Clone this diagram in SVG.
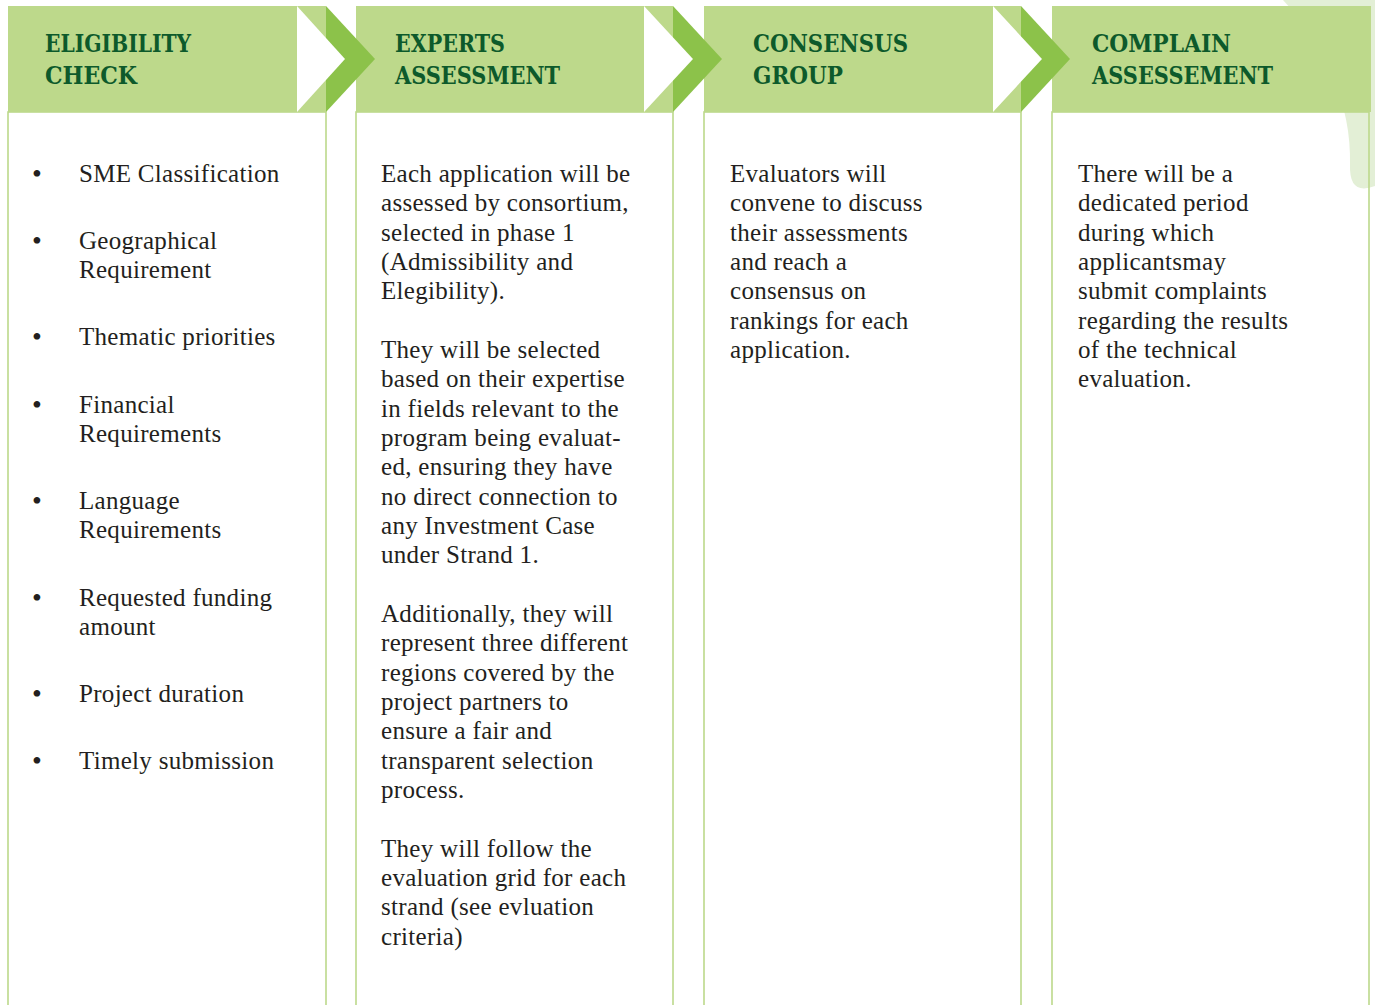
<svg xmlns="http://www.w3.org/2000/svg" width="1375" height="1005" viewBox="0 0 1375 1005">
<style>
.hdr{fill:#bdd98b}
.col{fill:none;stroke:#bcd98b;stroke-width:1.6}
.ttl{font-family:"DejaVu Serif",serif;font-weight:bold;font-size:24px;fill:#0d5a2b}
.txt{font-family:"Liberation Serif",serif;font-size:25px;letter-spacing:0.3px;fill:#231f20}
.bul{font-family:"Liberation Serif",serif;font-size:28px;fill:#231f20}
.dark{fill:#8cc24a}
.gap{fill:#ffffff}
</style>
<rect width="1375" height="1005" fill="#ffffff"/>
<path d="M1283,0 C1325,45 1352,105 1350,165 Q1349,196 1375,186 L1375,0 Z" fill="#e3efd6"/>

<g id="eligibility-check">
<rect class="col" x="8" y="112" width="318" height="900"/>
<rect class="hdr" x="8" y="6" width="318" height="106"/>
<text class="ttl" x="45" y="52" textLength="146" lengthAdjust="spacingAndGlyphs">ELIGIBILITY</text>
<text class="ttl" x="45" y="84" textLength="92" lengthAdjust="spacingAndGlyphs">CHECK</text>
<g class="bul">
<text x="32" y="183">•</text>
<text x="32" y="250">•</text>
<text x="32" y="346">•</text>
<text x="32" y="414">•</text>
<text x="32" y="510">•</text>
<text x="32" y="607">•</text>
<text x="32" y="703">•</text>
<text x="32" y="770">•</text>
</g>
<g class="txt">
<text x="79" y="182">SME Classification</text>
<text x="79" y="249">Geographical</text><text x="79" y="278">Requirement</text>
<text x="79" y="345">Thematic priorities</text>
<text x="79" y="413">Financial</text><text x="79" y="442">Requirements</text>
<text x="79" y="509">Language</text><text x="79" y="538">Requirements</text>
<text x="79" y="606">Requested funding</text><text x="79" y="635">amount</text>
<text x="79" y="702">Project duration</text>
<text x="79" y="769">Timely submission</text>
</g>
</g>

<g id="experts-assessment">
<rect class="col" x="356" y="112" width="317" height="900"/>
<rect class="hdr" x="356" y="6" width="317" height="106"/>
<text class="ttl" x="395" y="52" textLength="110" lengthAdjust="spacingAndGlyphs">EXPERTS</text>
<text class="ttl" x="395" y="84" textLength="165" lengthAdjust="spacingAndGlyphs">ASSESSMENT</text>
<g class="txt">
<text x="381" y="182">Each application will be</text>
<text x="381" y="211.3">assessed by consortium,</text>
<text x="381" y="240.7">selected in phase 1</text>
<text x="381" y="270">(Admissibility and</text>
<text x="381" y="299.3">Elegibility).</text>
<text x="381" y="358">They will be selected</text>
<text x="381" y="387.3">based on their expertise</text>
<text x="381" y="416.7">in fields relevant to the</text>
<text x="381" y="446">program being evaluat-</text>
<text x="381" y="475.3">ed, ensuring they have</text>
<text x="381" y="504.7">no direct connection to</text>
<text x="381" y="534">any Investment Case</text>
<text x="381" y="563.3">under Strand 1.</text>
<text x="381" y="622">Additionally, they will</text>
<text x="381" y="651.3">represent three different</text>
<text x="381" y="680.7">regions covered by the</text>
<text x="381" y="710">project partners to</text>
<text x="381" y="739.3">ensure a fair and</text>
<text x="381" y="768.7">transparent selection</text>
<text x="381" y="798">process.</text>
<text x="381" y="856.7">They will follow the</text>
<text x="381" y="886">evaluation grid for each</text>
<text x="381" y="915.3">strand (see evluation</text>
<text x="381" y="944.7">criteria)</text>
</g>
</g>

<g id="consensus-group">
<rect class="col" x="704" y="112" width="317" height="900"/>
<rect class="hdr" x="704" y="6" width="317" height="106"/>
<text class="ttl" x="753" y="52" textLength="155" lengthAdjust="spacingAndGlyphs">CONSENSUS</text>
<text class="ttl" x="753" y="84" textLength="90" lengthAdjust="spacingAndGlyphs">GROUP</text>
<g class="txt">
<text x="730" y="182">Evaluators will</text>
<text x="730" y="211.3">convene to discuss</text>
<text x="730" y="240.7">their assessments</text>
<text x="730" y="270">and reach a</text>
<text x="730" y="299.3">consensus on</text>
<text x="730" y="328.7">rankings for each</text>
<text x="730" y="358">application.</text>
</g>
</g>

<g id="complain-assessement">
<rect class="col" x="1052" y="112" width="317" height="900"/>
<rect class="hdr" x="1052" y="6" width="319" height="106"/>
<text class="ttl" x="1092" y="52" textLength="139" lengthAdjust="spacingAndGlyphs">COMPLAIN</text>
<text class="ttl" x="1092" y="84" textLength="181" lengthAdjust="spacingAndGlyphs">ASSESSEMENT</text>
<g class="txt">
<text x="1078" y="182">There will be a</text>
<text x="1078" y="211.3">dedicated period</text>
<text x="1078" y="240.7">during which</text>
<text x="1078" y="270">applicantsmay</text>
<text x="1078" y="299.3">submit complaints</text>
<text x="1078" y="328.7">regarding the results</text>
<text x="1078" y="358">of the technical</text>
<text x="1078" y="387.3">evaluation.</text>
</g>
</g>

<g id="connectors">
<polygon class="dark" points="326,6 375,59 326,112"/>
<polygon class="gap" points="297,6 345,59 297,112"/>
<polygon class="dark" points="673,6 722,59 673,112"/>
<polygon class="gap" points="644,6 693,59 644,112"/>
<polygon class="dark" points="1021,6 1070,59 1021,112"/>
<polygon class="gap" points="993,6 1042,59 993,112"/>
</g>
</svg>
